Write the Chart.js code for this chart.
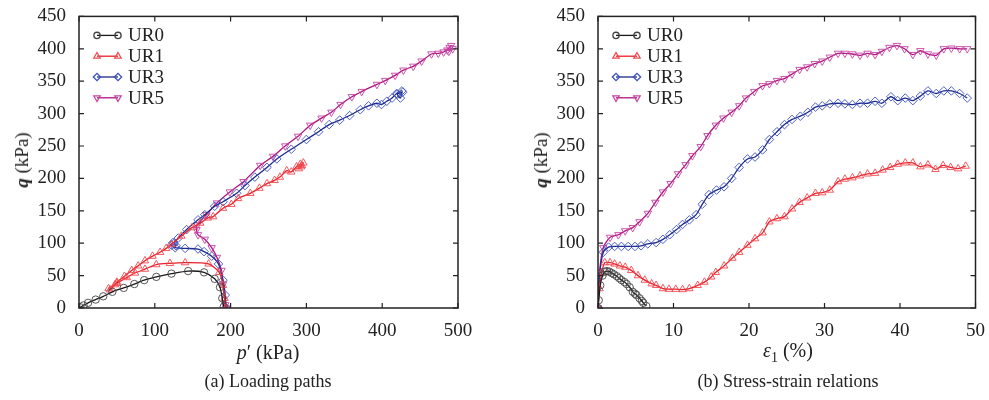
<!DOCTYPE html>
<html>
<head>
<meta charset="utf-8">
<script src="https://cdn.jsdelivr.net/npm/chart.js@4.4.1/dist/chart.umd.min.js"></script>
<style>
  body { margin: 0; background: #fff; font-family: 'Liberation Serif', serif; color: #222; }
  #wrap { position: relative; width: 989px; height: 400px; overflow: hidden; }
  canvas { position: absolute; top: 0; }
  .lbl { position: absolute; white-space: nowrap; transform: translate(-50%, -50%); }
  .ytitle { font-size: 19px; transform: translate(-50%, -50%) rotate(-90deg); }
  .xtitle { font-size: 20px; }
  .cap { font-size: 18px; }
</style>
</head>
<body>
<div id="wrap">
  <canvas id="pathChart" width="494" height="400" style="left:0"></canvas>
  <canvas id="strainChart" width="495" height="400" style="left:494px"></canvas>
  <div class="lbl ytitle" style="left:22px; top:160px"><b><i>q</i></b> (kPa)</div>
  <div class="lbl ytitle" style="left:541px; top:160px"><b><i>q</i></b> (kPa)</div>
  <div class="lbl xtitle" style="left:268px; top:352px"><i>p</i>′ (kPa)</div>
  <div class="lbl xtitle" style="left:788px; top:352px"><i>ε</i><sub style="font-size:14px">1</sub> (%)</div>
  <div class="lbl cap" style="left:268px; top:381px">(a) Loading paths</div>
  <div class="lbl cap" style="left:788px; top:381px">(b) Stress-strain relations</div>
</div>
<script>
// Series names
const seriesNames = ['UR0', 'UR1', 'UR3', 'UR5'];

// (a) Loading paths: p' (kPa) and q (kPa)
const ur0P = [191, 189, 186, 179, 165, 144, 122, 102, 86, 73, 59, 44, 32, 22, 12, 6, 2];
const ur0Q = [2, 15, 32, 45, 55, 57, 53, 48, 43, 37, 31, 25, 18, 13, 8, 4, 1];

const ur1P = [193, 192, 190, 185, 171, 140, 120, 102, 87, 74, 63, 50, 39, 41, 47.5, 50, 60, 69.5, 78, 87, 97, 107, 115, 122, 135, 149, 160, 170, 177, 190, 201, 210, 226, 238, 248, 258, 265, 274, 280, 287, 292, 294, 290, 296, 293];
const ur1Q = [0, 15, 35, 55, 68, 70, 69, 67, 60, 54, 47, 38, 30, 28, 36, 40, 49, 58, 65, 73, 80, 86, 92, 98, 111, 124, 131, 139, 141, 154, 160, 169, 177, 185, 192, 197, 202, 212, 210, 218, 222, 220, 215, 224, 218];

const ur3P = [194, 193, 190, 184, 175, 165, 157, 140, 127, 122, 124, 128, 125, 131, 142, 157, 166, 179, 190, 208, 219, 232, 248, 261, 280, 300, 316, 330, 344, 357, 371, 382, 393, 399, 406, 413, 419, 426, 424, 420, 427];
const ur3Q = [0, 20, 43, 68, 80, 87, 91, 92, 93, 97, 101, 96, 99, 108, 121, 136, 144, 157, 164, 177, 189, 202, 217, 230, 245, 260, 272, 283, 290, 297, 306, 312, 316, 314, 319, 324, 331, 335, 324, 330, 333];

const ur5P = [194, 193, 190, 188, 182, 175, 166, 157, 155, 156, 168, 182, 199, 217, 239, 256, 272, 289, 305, 320, 333, 345, 360, 373, 393, 404, 417, 428, 441, 452, 465, 474, 481, 489, 491, 486, 493, 488];
const ur5Q = [0, 5, 37, 58, 78, 93, 106, 113, 121, 128, 144, 162, 179, 195, 220, 234, 250, 265, 282, 293, 302, 314, 326, 334, 345, 351, 359, 367, 373, 381, 392, 393, 395, 402, 405, 398, 400, 396];

// (b) Stress-strain: axial strain (%) and q (kPa)
const ur0E = [0, 0.1, 0.3, 0.6, 0.9, 1.2, 1.5, 1.8, 2.1, 2.5, 2.8, 3.1, 3.5, 3.8, 4.2, 4.6, 4.9, 5.1, 5.5, 5.8, 6.0, 6.4];
const ur0S = [0, 12, 35, 50, 56, 57, 56, 54, 52, 49, 46, 43, 40, 37, 32, 25, 22, 20, 15, 11, 8, 3];

const ur1E = [0, 0.2, 0.5, 0.9, 1.6, 2.2, 2.9, 3.6, 4.4, 5.3, 6.2, 7.1, 7.7, 8.6, 9.4, 10.3, 11.2, 12.1, 13.2, 14.1, 15.0, 15.6, 16.7, 17.8, 18.7, 19.8, 20.8, 21.8, 22.7, 23.7, 24.7, 25.7, 26.7, 27.7, 28.8, 29.7, 30.7, 31.8, 32.7, 33.7, 34.7, 35.7, 36.7, 37.7, 38.7, 39.7, 40.7, 41.7, 42.7, 43.7, 44.7, 45.7, 46.7, 47.7, 48.7];
const ur1S = [0, 30, 55, 70, 70, 68, 65, 63, 58, 50, 43, 37.5, 35, 30, 29, 29, 28.5, 30, 35, 40, 48, 55, 65, 77, 86, 97, 107, 116, 133, 138, 141, 153, 163, 170, 177, 178, 182, 195, 199, 201, 204, 207, 208, 213, 217, 222, 224, 224, 218, 221, 214, 220, 217, 215, 219];

const ur3E = [0, 0.2, 0.7, 1.4, 2.2, 3.1, 4.0, 4.9, 5.7, 6.6, 7.7, 8.6, 9.5, 10.4, 11.2, 12.1, 13.0, 13.8, 14.7, 15.7, 16.7, 17.7, 18.7, 19.8, 20.8, 21.8, 22.7, 23.7, 24.7, 25.7, 26.8, 27.8, 28.8, 29.7, 30.7, 31.8, 32.7, 33.7, 34.7, 35.7, 36.7, 37.6, 38.8, 39.7, 40.7, 41.7, 42.7, 43.7, 44.8, 45.8, 46.8, 47.9, 48.9];
const ur3S = [0, 50, 86, 94, 95, 95, 95, 95, 96, 99, 101, 106, 113, 121, 129, 136, 144, 160, 175, 182, 187, 200, 217, 230, 233, 244, 260, 272, 283, 291, 296, 302, 310, 312, 315, 316, 315, 314, 316, 316, 319, 316, 326, 320, 324, 320, 327, 335, 331, 335, 335, 331, 324];

const ur5E = [0, 0.2, 0.7, 1.6, 2.7, 3.6, 4.6, 5.5, 6.6, 7.6, 8.6, 9.6, 10.6, 11.6, 12.5, 13.6, 14.5, 15.6, 16.6, 17.7, 18.7, 19.6, 20.7, 21.8, 22.7, 23.7, 24.7, 25.7, 26.7, 27.7, 28.7, 29.7, 30.7, 31.8, 32.7, 33.7, 34.7, 35.7, 36.7, 37.6, 38.6, 39.6, 40.6, 41.7, 42.7, 43.7, 44.8, 45.8, 46.8, 47.9, 48.9];
const ur5S = [0, 55, 93, 109, 113, 119, 124, 133, 146, 163, 179, 192, 207, 221, 235, 249, 266, 282, 293, 302, 312, 324, 334, 343, 346, 351, 354, 361, 368, 372, 377, 381, 387, 393, 393, 392, 390, 393, 391, 396, 402, 405, 400, 391, 397, 392, 390, 400, 401, 400, 400];

// Axis ticks
const qTicks = [0, 50, 100, 150, 200, 250, 300, 350, 400, 450];
const pTicks = [0, 100, 200, 300, 400, 500];
const strainTicks = [0, 10, 20, 30, 40, 50];

const FONT = "'Liberation Serif', 'DejaVu Serif', serif";
const INK = '#222';

const styles = [
  { line: '#1a1a1a', point: '#444',    shape: 'circle',   rot: 0,   r: 3.7 },
  { line: '#e8202a', point: '#f04a50', shape: 'triangle', rot: 0,   r: 4.3 },
  { line: '#1c2a8c', point: '#3b4fc0', shape: 'rectRot',  rot: 0,   r: 4.3 },
  { line: '#b0127f', point: '#c444a4', shape: 'triangle', rot: 180, r: 4.3 }
];

function toPoints(xs, ys) {
  return xs.map((x, i) => ({ x: x, y: ys[i] }));
}

function makeDatasets(pairs) {
  return pairs.map((pair, i) => ({
    label: seriesNames[i],
    data: toPoints(pair[0], pair[1]),
    showLine: true,
    borderColor: styles[i].line,
    borderWidth: 1.3,
    tension: 0.25,
    pointStyle: styles[i].shape,
    pointRotation: styles[i].rot,
    pointRadius: styles[i].r,
    pointBorderWidth: 0.9,
    pointBorderColor: styles[i].point,
    pointBackgroundColor: 'rgba(0,0,0,0)'
  }));
}

// frame, inward ticks on all sides and a legend with a marker at each end
const framePlugin = {
  id: 'frame',
  afterDraw(chart) {
    const { ctx, chartArea: a, scales } = chart;
    ctx.save();
    ctx.strokeStyle = INK;
    ctx.lineWidth = 1.5;
    ctx.strokeRect(a.left, a.top, a.right - a.left, a.bottom - a.top);
    ctx.lineWidth = 1.2;
    const len = 5;
    scales.x.ticks.forEach(t => {
      const px = scales.x.getPixelForValue(t.value);
      ctx.beginPath();
      ctx.moveTo(px, a.bottom); ctx.lineTo(px, a.bottom - len);
      ctx.moveTo(px, a.top); ctx.lineTo(px, a.top + len);
      ctx.stroke();
    });
    scales.y.ticks.forEach(t => {
      const py = scales.y.getPixelForValue(t.value);
      ctx.beginPath();
      ctx.moveTo(a.left, py); ctx.lineTo(a.left + len, py);
      ctx.moveTo(a.right, py); ctx.lineTo(a.right - len, py);
      ctx.stroke();
    });

    // legend
    ctx.font = '19px ' + FONT;
    ctx.textBaseline = 'middle';
    chart.data.datasets.forEach((ds, i) => {
      const y = a.top + 19 + i * 20.8;
      const x0 = a.left + 18, x1 = a.left + 39;
      ctx.strokeStyle = ds.borderColor;
      ctx.lineWidth = 1.3;
      ctx.beginPath();
      ctx.moveTo(x0, y); ctx.lineTo(x1, y);
      ctx.stroke();
      const opts = { pointStyle: ds.pointStyle, radius: ds.pointRadius * 0.85, rotation: ds.pointRotation, borderWidth: 0.9 };
      ctx.strokeStyle = ds.pointBorderColor;
      ctx.fillStyle = 'rgba(0,0,0,0)';
      Chart.helpers.drawPoint(ctx, opts, x0, y);
      Chart.helpers.drawPoint(ctx, opts, x1, y);
      ctx.fillStyle = INK;
      ctx.fillText(ds.label, a.left + 49, y + 1);
    });
    ctx.restore();
  }
};

function buildChart(id, pairs, xMax, xStep, xTicks, leftWidth, rightPad) {
  const el = document.getElementById(id);
  return new Chart(el, {
    type: 'scatter',
    data: { datasets: makeDatasets(pairs) },
    options: {
      responsive: false,
      animation: false,
      events: [],
      layout: { padding: { top: 12, right: rightPad, left: 0, bottom: 0 } },
      plugins: { legend: { display: false }, tooltip: { enabled: false } },
      scales: {
        x: {
          type: 'linear', min: 0, max: xMax,
          grid: { display: false },
          border: { display: false },
          afterBuildTicks: s => { s.ticks = xTicks.map(v => ({ value: v })); },
          afterFit: s => { s.height = 92; },
          ticks: { stepSize: xStep, padding: 4, color: INK, font: { family: FONT, size: 19 } }
        },
        y: {
          type: 'linear', min: 0, max: 450,
          grid: { display: false },
          border: { display: false },
          afterBuildTicks: s => { s.ticks = qTicks.map(v => ({ value: v })); },
          afterFit: s => { s.width = leftWidth; },
          ticks: { stepSize: 50, padding: 5, color: INK, font: { family: FONT, size: 19 } }
        }
      }
    },
    plugins: [framePlugin]
  });
}

buildChart('pathChart',
  [[ur0P, ur0Q], [ur1P, ur1Q], [ur3P, ur3Q], [ur5P, ur5Q]],
  500, 100, pTicks, 79, 36);

buildChart('strainChart',
  [[ur0E, ur0S], [ur1E, ur1S], [ur3E, ur3S], [ur5E, ur5S]],
  50, 10, strainTicks, 104, 11);
</script>
</body>
</html>
